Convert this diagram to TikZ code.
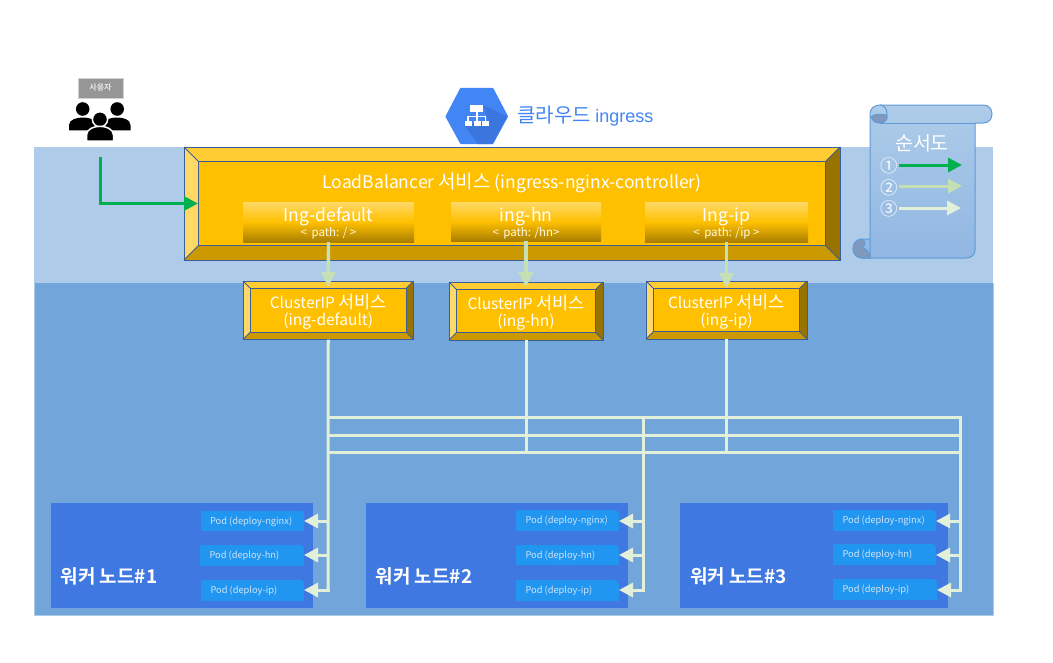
\documentclass[tikz,border=0pt]{standalone}
\usepackage{fontspec}
\setmainfont{Noto Sans CJK KR}[BoldFont={Noto Sans CJK KR Bold}]
\newfontfamily\symfont{Noto Sans CJK KR}
\newfontfamily\arialfont{Liberation Sans}
\usetikzlibrary{arrows.meta,shapes.misc,calc}
\definecolor{bandlight}{HTML}{AECCE9}
\definecolor{banddark}{HTML}{72A6DB}
\definecolor{edgeblue}{HTML}{3B5E9A}
\definecolor{bevtop}{HTML}{FFCD33}
\definecolor{bevleft}{HTML}{FFD966}
\definecolor{bevright}{HTML}{997300}
\definecolor{bevbot}{HTML}{CC9900}
\definecolor{face}{HTML}{FFC000}
\definecolor{inkdark}{HTML}{A87E00}
\definecolor{arrowgreen}{HTML}{00B050}
\definecolor{arrowmid}{HTML}{C5E0B4}
\definecolor{arrowpale}{HTML}{E2F0D9}
\definecolor{nodeblue}{HTML}{3F78E0}
\definecolor{podblue}{HTML}{2196F0}
\definecolor{podtext}{HTML}{CFE3F8}
\definecolor{cloudblue}{HTML}{4285F4}
\definecolor{cloudshade}{HTML}{3A76DE}
\definecolor{scrollline}{HTML}{5F9BD8}
\definecolor{scrollbot}{HTML}{90B6E2}
\definecolor{curl}{HTML}{7F98BC}
\newcommand{\korL}[1]{{\fontsize{19}{20}\selectfont #1}}
\newcommand{\korC}[1]{{\fontsize{17.5}{20}\selectfont #1}}
\tikzset{
  x=1pt,y=-1pt,
  facebox/.style={rectangle,fill=face,draw=edgeblue,line width=1pt,inner sep=0pt,outer sep=0pt,text=white,align=center},
  outerbox/.style={rectangle,draw=edgeblue,line width=1pt,inner sep=0pt,outer sep=0pt,anchor=north west},
  ingbox/.style={rectangle,inner sep=0pt,outer sep=0pt,anchor=north west,top color=bevleft,bottom color=inkdark,middle color=face,shading angle=0},
  ingtitle/.style={text=white,inner sep=0pt,font=\fontsize{17.6}{20}\selectfont},
  ingpath/.style={text=white!90!face,inner sep=0pt,font=\fontsize{11.5}{12}\selectfont},
  clabel/.style={text=white,inner sep=0pt,font=\fontsize{15.5}{20}\selectfont},
  nodepanel/.style={rectangle,fill=nodeblue,inner sep=0pt,outer sep=0pt,anchor=north west},
  nodelabel/.style={text=white,inner sep=0pt,anchor=west,font=\bfseries\fontsize{19}{20}\selectfont},
  podbox/.style={rectangle,fill=podblue,inner sep=0pt,outer sep=0pt,anchor=north west,minimum height=20.5pt,text height=7pt,text depth=0pt,text=podtext,font=\fontsize{9.3}{11}\selectfont},
  thinflow/.style={draw=arrowpale,line width=3pt},
  greenflow/.style={draw=arrowgreen,line width=3pt,-{Triangle[length=14pt,width=14pt]}},
  midflow/.style={draw=arrowmid,line width=3.4pt,-{Triangle[length=15pt,width=14pt]}},
  paleflow/.style={draw=arrowpale,line width=3pt,-{Triangle[length=14pt,width=14pt]}},
  legendtext/.style={text=white,inner sep=0pt},
}
\newcommand{\bevelbox}[6]{%
  \pgfmathsetmacro{\bw}{#4-#2}\pgfmathsetmacro{\bh}{#5-#3}%
  \pgfmathsetmacro{\iw}{#4-#2-2*#6}\pgfmathsetmacro{\ih}{#5-#3-2*#6}%
  \pgfmathsetmacro{\xa}{#2+#6}\pgfmathsetmacro{\ya}{#3+#6}%
  \pgfmathsetmacro{\xb}{#4-#6}\pgfmathsetmacro{\yb}{#5-#6}%
  \fill[bevtop] (#2,#3)--(#4,#3)--(\xb,\ya)--(\xa,\ya)--cycle;
  \fill[bevleft] (#2,#3)--(\xa,\ya)--(\xa,\yb)--(#2,#5)--cycle;
  \fill[bevright] (#4,#3)--(\xb,\ya)--(\xb,\yb)--(#4,#5)--cycle;
  \fill[bevbot] (#2,#5)--(\xa,\yb)--(\xb,\yb)--(#4,#5)--cycle;
  \draw[edgeblue,line width=.8pt] (#2,#3)--(\xa,\ya) (#4,#3)--(\xb,\ya) (#2,#5)--(\xa,\yb) (#4,#5)--(\xb,\yb);
  \node[outerbox,minimum width=\bw pt,minimum height=\bh pt] (#1) at (#2,#3) {};
  \node[facebox,anchor=north west,minimum width=\iw pt,minimum height=\ih pt] (#1face) at (\xa,\ya) {};
}
\newcommand{\podnode}[5]{%
  \pgfmathsetmacro{\pw}{#4-#2}%
  \node[podbox,minimum width=\pw pt] (#1) at (#2,#3) {\makebox[\pw pt][l]{\hspace{9.5pt}#5}};
  \fill[nodeblue] (#4-4,#3)--(#4,#3)--(#4,#3+4) .. controls (#4,#3+1.5) and (#4-1.5,#3) .. (#4-4,#3)--cycle;
}
\begin{document}
\begin{tikzpicture}
\useasboundingbox (0,0) rectangle (1053,662);
\fill[white] (0,0) rectangle (1053,662);
% bands
\fill[bandlight] (34,147) rectangle (993,283);
\fill[banddark] (34,283) rectangle (993,615);
\draw[bandlight,line width=.8pt] (34,283)--(34,615)--(993,615)--(993,283);

% user
\node[rectangle,fill=black!41,draw=black!18,line width=1pt,minimum width=45pt,minimum height=20pt,inner sep=0pt,text=white!90!black,font=\bfseries\fontsize{8}{9}\selectfont] (user) at (100.5,88) {사용자};
\fill[black] (82.7,109) circle (6.8);
\fill[black] (117.2,109) circle (6.8);
\fill[black] (69,130.3) -- (69,125) .. controls (69,119) and (78,117.5) .. (83,117.5) .. controls (88,117.5) and (97,119) .. (97,125) -- (97,130.3) -- cycle;
\fill[black] (103,130.3) -- (103,125) .. controls (103,119) and (112,117.5) .. (117,117.5) .. controls (122,117.5) and (130.5,119) .. (130.5,125) -- (130.5,130.3) -- cycle;
\fill[black,draw=white,line width=1.5pt] (100,119.3) circle (7.6);
\fill[black,draw=white,line width=1.5pt] (86.5,141) -- (86.5,135) .. controls (86.5,129) and (94,126.3) .. (100,126.3) .. controls (106,126.3) and (113.5,129) .. (113.5,135) -- (113.5,141) -- cycle;
\coordinate (userfoot) at (100,157);

% cloud icon
\fill[white] (445,82) rectangle (508,147);
\fill[cloudblue,draw=cloudblue,line width=2pt,line join=round] (446.5,116.5)--(461,88.8)--(492.5,88.8)--(507,116.5)--(492.5,143)--(461,143)--cycle;
\fill[cloudshade] (483,105)--(507,116.5)--(492.5,144)--(478,144)--(464,125)--(489,122)--cycle;
\fill[white] (470,105) rectangle (483,112);
\draw[white,line width=1.6pt] (476.7,111)--(476.7,117) (468,122)--(468,116.5)--(485.5,116.5)--(485.5,122) (476.7,116.5)--(476.7,122);
\fill[white] (464.5,121) rectangle (472,125.5);
\fill[white] (473.5,121) rectangle (480.5,125.5);
\fill[white] (482,121) rectangle (489,125.5);
\node[anchor=west,inner sep=0pt,text=cloudblue,font=\fontsize{20}{22}\selectfont] (cloudlabel) at (517,116.5) {클라우드 {\arialfont\fontsize{18}{20}\selectfont ingress}};

% scroll
\draw[scrollline,line width=1pt,top color=bandlight,bottom color=scrollbot,shading angle=0]
  (870,258) -- (870,114) .. controls (870,108) and (875,105) .. (880,105) -- (983,105) .. controls (989,105) and (992,109) .. (992,114) .. controls (992,119) and (989,123) .. (983,123) -- (975,123) -- (975,250) .. controls (975,255) and (971,258) .. (966,258) -- (862,258) .. controls (857,258) and (853,254) .. (853,249) .. controls (853,243) and (857,239) .. (862,239) -- (870,239);
\draw[scrollline,line width=1pt] (880,123) -- (975,123);
\fill[curl,draw=scrollline,line width=1pt] (880,123) .. controls (874,123) and (872,120) .. (871,117) .. controls (873,114) and (879,114) .. (887,115) .. controls (888,119) and (885,123) .. (880,123) -- cycle;
\draw[scrollline,line width=1pt] (887,114) .. controls (887,109) and (884,105) .. (880,105);
\fill[curl,draw=scrollline,line width=1pt] (870,258) -- (862,258) .. controls (857,258) and (853,254) .. (853,249) .. controls (853,243) and (857,239) .. (862,239) .. controls (866,241) and (866,246) .. (862,247) .. controls (866,249) and (870,252) .. (870,258) -- cycle;
\node[legendtext,font=\fontsize{19.5}{22}\selectfont] (legendtitle) at (922,143) {순서도};
\node[legendtext,font=\symfont\fontsize{17.5}{19}\selectfont] (n1) at (889,166) {①};
\node[legendtext,font=\symfont\fontsize{17.5}{19}\selectfont] (n2) at (889,188) {②};
\node[legendtext,font=\symfont\fontsize{17.5}{19}\selectfont] (n3) at (889,208.5) {③};
\coordinate (l1a) at (899,165); \coordinate (l1b) at (962,165);
\coordinate (l2a) at (899,186); \coordinate (l2b) at (962,186);
\coordinate (l3a) at (899,208); \coordinate (l3b) at (961,208);
\draw[greenflow] (l1a)--(l1b);
\draw[midflow,line width=3pt,-{Triangle[length=14pt,width=14pt]}] (l2a)--(l2b);
\draw[paleflow] (l3a)--(l3b);

% load balancer
\bevelbox{lb}{184}{147}{840}{260}{14.5}
\node[text=white,inner sep=0pt,font=\fontsize{17.5}{20}\selectfont] (lbtitle) at (512,183) {LoadBalancer \korL{서비스} (ingress-nginx-controller)};
\node[ingbox,minimum width=171pt,minimum height=40pt] (ing1) at (243,202) {};
\node[ingbox,minimum width=150pt,minimum height=39pt] (ing2) at (451,202) {};
\node[ingbox,minimum width=163pt,minimum height=40pt] (ing3) at (645,202) {};
\node[ingtitle] (ing1t) at (328.5,216.5) {Ing-default};
\node[ingtitle] (ing2t) at (526,216.5) {ing-hn};
\node[ingtitle] (ing3t) at (726.5,216.5) {Ing-ip};
\node[ingpath] (ing1p) at (328.5,233.5) {<\, path: / >};
\node[ingpath] (ing2p) at (526,233.5) {<\, path: /hn>};
\node[ingpath] (ing3p) at (726.5,233.5) {<\, path: /ip >};

% clusterip
\bevelbox{c1}{243}{281}{413.5}{339.5}{7.5}
\bevelbox{c2}{449}{282}{603}{340}{7.5}
\bevelbox{c3}{646}{281}{807}{339}{7.5}
\node[clabel] (c1a) at (328.25,302) {ClusterIP \korC{서비스}};
\node[clabel] (c1b) at (328.25,321) {(ing-default)};
\node[clabel] (c2a) at (526,303) {ClusterIP \korC{서비스}};
\node[clabel] (c2b) at (526,322) {(ing-hn)};
\node[clabel] (c3a) at (726.5,302) {ClusterIP \korC{서비스}};
\node[clabel] (c3b) at (726.5,321) {(ing-ip)};

% flows into clusterip
\draw[greenflow] (userfoot) |- (lb.west -| 198,203);
\draw[midflow,shorten >=-6pt] (ing1.south) -- (c1.north);
\draw[midflow,shorten >=-5pt] (ing2.south) -- (c2.north);
\draw[midflow,shorten >=-7pt] (ing3.south) -- (c3.north);

% worker nodes
\node[nodepanel,minimum width=262pt,minimum height=105pt] (w1) at (51,503) {};
\node[nodepanel,minimum width=262pt,minimum height=105pt] (w2) at (366,503) {};
\node[nodepanel,minimum width=268pt,minimum height=105pt] (w3) at (680,503) {};
\node[nodelabel] (w1t) at (60.5,576) {워커 노드\#1};
\node[nodelabel] (w2t) at (375.5,576) {워커 노드\#2};
\node[nodelabel] (w3t) at (690,576) {워커 노드\#3};
\podnode{p11}{200.5}{510.5}{304}{Pod (deploy-nginx)}
\podnode{p12}{200}{545}{304}{Pod (deploy-hn)}
\podnode{p13}{201}{580}{304}{Pod (deploy-ip)}
\podnode{p21}{516}{510}{619}{Pod (deploy-nginx)}
\podnode{p22}{516}{544.5}{619}{Pod (deploy-hn)}
\podnode{p23}{516}{580}{619}{Pod (deploy-ip)}
\podnode{p31}{833}{510}{936}{Pod (deploy-nginx)}
\podnode{p32}{833}{544}{936}{Pod (deploy-hn)}
\podnode{p33}{833}{579}{937}{Pod (deploy-ip)}

% pale network
\coordinate (ha) at (328,417); \coordinate (hb) at (328,435); \coordinate (hc) at (328,452);
\coordinate (ea) at (960,417); \coordinate (ec) at (960,452); \coordinate (mid) at (643,417);
\draw[thinflow] (ha)--(ea) (hb)--(960,435) (hc)--(ec);
\draw[thinflow,line cap=rect] (ea)--(960,590);
\draw[thinflow,line cap=rect] (mid)--(643,590);
\draw[thinflow] (c1.south)--(328,591.5);
\draw[thinflow] (c2.south)--(526,452);
\draw[thinflow] (c3.south)--(726.5,452);
\coordinate (j11) at (328,521); \coordinate (j12) at (328,555); \coordinate (j13) at (329.5,590);
\coordinate (j21) at (643,521); \coordinate (j22) at (643,555); \coordinate (j23) at (644.5,590);
\coordinate (j31) at (960,521); \coordinate (j32) at (960,555); \coordinate (j33) at (961.5,590);
\draw[paleflow] (j11)--(j11 -| p11.east);
\draw[paleflow] (j12)--(j12 -| p12.east);
\draw[paleflow] (j13)--(j13 -| p13.east);
\draw[paleflow] (j21)--(j21 -| p21.east);
\draw[paleflow] (j22)--(j22 -| p22.east);
\draw[paleflow] (j23)--(j23 -| p23.east);
\draw[paleflow] (j31)--(j31 -| p31.east);
\draw[paleflow] (j32)--(j32 -| p32.east);
\draw[paleflow] (j33)--(j33 -| p33.east);
\end{tikzpicture}
\end{document}
